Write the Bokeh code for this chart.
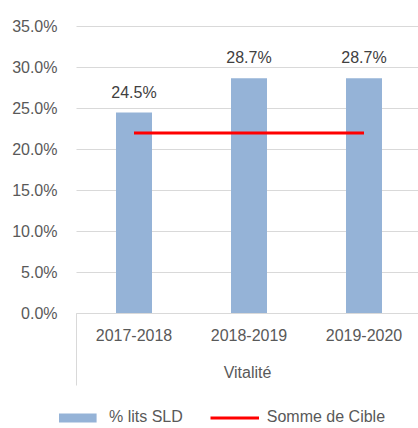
from bokeh.plotting import figure
from bokeh.models import (Range1d, FixedTicker, NumeralTickFormatter, ColumnDataSource,
                          LabelSet, Legend, LegendItem)
from bokeh.core.properties import value
from bokeh.embed import file_html
from bokeh.resources import INLINE

categories = ["2017-2018", "2018-2019", "2019-2020"]
pct_lits_sld = [0.245, 0.287, 0.287]
somme_cible = [0.22, 0.22, 0.22]
y_ticks = [0.0, 0.05, 0.10, 0.15, 0.20, 0.25, 0.30, 0.35]
group_label = "Vitalité"

FONT = "Liberation Sans"
n = len(categories)
xpos = [i + 0.5 for i in range(n)]

# pixel geometry of the plot region (Excel-like layout)
W, H = 418, 428
PX_X = 115.0           # px per category
PX_Y = 820.0           # px per unit (100%)
AX_LEFT, AX_BOTTOM, AX_TOP = 76, 313, 26
FRAME_LEFT = 59

src = ColumnDataSource(dict(
    x=xpos, top=pct_lits_sld, cible=somme_cible,
    lbl=[f"{v*100:.1f}%" for v in pct_lits_sld],
))

x_end = (W - AX_LEFT) / PX_X
p = figure(width=W, height=H, output_backend="svg", toolbar_location=None, title=None,
           x_range=Range1d(-(AX_LEFT - FRAME_LEFT) / PX_X, x_end),
           y_range=Range1d(-(H - AX_BOTTOM) / PX_Y, max(y_ticks) + AX_TOP / PX_Y),
           min_border_left=FRAME_LEFT, min_border_right=0, min_border_top=0, min_border_bottom=0)
p.outline_line_color = None
p.background_fill_color = "white"
p.border_fill_color = "white"
p.xgrid.grid_line_color = None
p.ygrid.grid_line_color = None

# horizontal gridlines at the y ticks
p.segment(x0=[0] * len(y_ticks), x1=[x_end] * len(y_ticks), y0=y_ticks, y1=y_ticks,
          line_color="#d9d9d9", line_width=1)

bars = p.vbar(x="x", top="top", width=0.313, source=src, fill_color="#95b3d7", line_color=None)
line = p.line(x="x", y="cible", source=src, line_color="#ff0000", line_width=3)

labels = LabelSet(x="x", y="top", text="lbl", source=src, text_align="center",
                  text_baseline="alphabetic", y_offset=15, text_font=value(FONT),
                  text_font_size="16px", text_color="#404040")
p.add_layout(labels)

# y axis
p.yaxis.ticker = FixedTicker(ticks=y_ticks)
p.yaxis.formatter = NumeralTickFormatter(format="0.0%")
p.yaxis.axis_line_color = None
p.yaxis.major_tick_line_color = None
p.yaxis.minor_tick_line_color = None
p.yaxis.major_tick_out = 0
p.yaxis.major_label_standoff = 2
p.yaxis.major_label_text_font = FONT
p.yaxis.major_label_text_font_size = "16px"
p.yaxis.major_label_text_color = "#595959"

# x axis, fixed at y = 0
xa = p.xaxis[0]
xa.fixed_location = 0
xa.bounds = (0, x_end)
xa.ticker = FixedTicker(ticks=xpos, minor_ticks=[0])
xa.major_label_overrides = {x: c for x, c in zip(xpos, categories)}
xa.axis_line_color = "#d9d9d9"
xa.major_tick_line_color = None
xa.major_tick_out = 0
xa.major_tick_in = 0
xa.minor_tick_line_color = "#d9d9d9"
xa.minor_tick_out = 0
xa.minor_tick_in = -72
xa.major_label_standoff = 15
xa.major_label_text_font = FONT
xa.major_label_text_font_size = "16px"
xa.major_label_text_color = "#595959"
xa.axis_label = group_label
xa.axis_label_standoff = 20
xa.axis_label_text_font = FONT
xa.axis_label_text_font_size = "16px"
xa.axis_label_text_font_style = "normal"
xa.axis_label_text_color = "#595959"

legend = Legend(items=[LegendItem(label="% lits SLD", renderers=[bars]),
                       LegendItem(label="Somme de Cible", renderers=[line])],
                location=(-7, 2), orientation="horizontal",
                glyph_width=49, glyph_height=11, label_standoff=8, spacing=27,
                padding=0, margin=0, border_line_color=None, background_fill_alpha=0,
                label_text_font=FONT, label_text_font_size="16px",
                label_text_color="#595959")
p.add_layout(legend, "center")

open("out.html", "w").write(file_html(p, INLINE))
